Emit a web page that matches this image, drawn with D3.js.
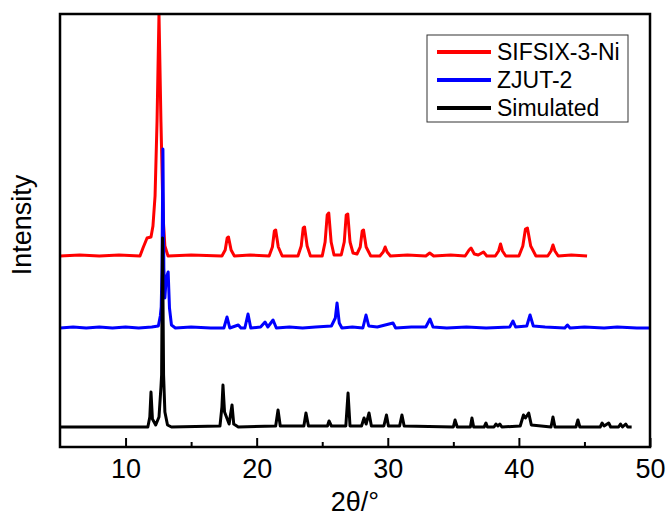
<!DOCTYPE html>
<html>
<head>
<meta charset="utf-8">
<script src="https://cdnjs.cloudflare.com/ajax/libs/d3/7.8.5/d3.min.js"></script>
<style>
  body { margin: 0; background: #fff; }
  svg { display: block; font-family: "Liberation Sans", Arial, sans-serif; }
</style>
</head>
<body>
<div id="chart"></div>
<script>
// series names and colours, as in legend order
var seriesNames = ["SIFSIX-3-Ni", "ZJUT-2", "Simulated"];
var seriesColors = ["#ff0000", "#0000ff", "#000000"];
// vertical offsets of each pattern (a.u.)
var seriesOffsets = [191, 119, 20];

// [2theta, intensity a.u.]
var sifsixData = [
  [5, 0], [6.5, 1], [8, 0], [9.5, 1], [11.1, 0], [11.33, 8], [11.64, 18], [11.94, 19], [12.09, 30],
  [12.25, 60], [12.4, 134], [12.55, 242], [12.7, 134], [12.86, 40], [13.0, 10], [13.24, 0],
  [15, 1], [17.35, 0], [17.6, 6], [17.75, 18], [17.85, 19], [18.05, 6], [18.3, 0],
  [19.5, 1], [20.95, 0], [21.2, 9], [21.35, 25], [21.45, 26], [21.65, 9], [21.95, 0],
  [23.15, 0], [23.4, 10], [23.55, 28], [23.65, 29], [23.85, 10], [24.1, 0],
  [25.0, 0], [25.22, 14], [25.38, 41], [25.5, 43], [25.68, 14], [25.9, 1],
  [26.45, 1], [26.68, 14], [26.83, 41], [26.95, 42], [27.12, 14], [27.35, 3],
  [27.65, 2], [27.9, 9], [28.05, 25], [28.15, 26], [28.35, 9], [28.7, 0],
  [29.4, 0], [29.65, 4], [29.8, 9], [29.95, 4], [30.2, 0], [31.5, 1],
  [32.9, 0], [33.2, 3], [33.5, 0], [34.8, 1],
  [35.9, 0], [36.2, 6], [36.35, 8], [36.6, 2], [36.9, 1], [37.3, 4], [37.55, 0],
  [38.2, 0], [38.45, 5], [38.6, 12], [38.75, 5], [39.0, 0],
  [40.0, 0], [40.3, 10], [40.5, 27], [40.65, 28], [40.9, 10], [41.3, 0],
  [42.2, 0], [42.45, 5], [42.6, 11], [42.75, 5], [43.0, 0], [44, 1], [45.2, 0]
];

var zjutData = [
  [5, 0], [6, 1], [7, 0], [8, 1], [9, 0], [10, 1], [11, 0], [12, 1],
  [12.5, 2], [12.65, 12], [12.72, 21], [12.78, 60], [12.85, 179], [12.92, 60], [13.0, 30],
  [13.1, 50], [13.25, 56], [13.35, 20], [13.5, 3], [13.8, 0], [15, 1], [16.5, 0],
  [17.5, 0], [17.74, 11], [17.95, 0], [18.6, 3], [18.8, 0],
  [19.1, 0], [19.34, 14], [19.55, 0], [20.3, 1], [20.64, 6], [20.85, 1], [21.25, 8], [21.5, 0],
  [22.5, 1], [23.5, 0], [24.5, 1], [25.7, 2], [26.0, 10], [26.13, 25], [26.3, 5], [26.5, 0],
  [27.3, 1], [28.1, 0], [28.34, 13], [28.55, 2], [29.2, 1], [30.4, 5], [30.6, 0],
  [31.8, 1], [32.9, 1], [33.22, 9], [33.45, 1], [34.5, 0], [36, 1], [37.5, 0],
  [39.3, 1], [39.55, 7], [39.75, 1], [40.6, 2], [40.85, 13], [41.1, 2], [42, 1],
  [43.5, 0], [43.7, 3], [43.9, 0], [45, 1], [46.5, 0], [47.5, 1], [49, 0], [50, 0]
];

var simulatedData = [
  [5, 0], [11.7, 0], [11.85, 10], [11.94, 35], [12.05, 8], [12.3, 2], [12.55, 10], [12.7, 40],
  [12.75, 52], [12.82, 189], [12.9, 52], [13.0, 15], [13.2, 2], [13.5, 0],
  [17.2, 1], [17.35, 20], [17.43, 42], [17.55, 15], [17.9, 3], [18.0, 12], [18.12, 22], [18.25, 3], [18.6, 0],
  [21.45, 1], [21.63, 17], [21.8, 1], [23.6, 1], [23.76, 14], [23.95, 1],
  [25.4, 1], [25.52, 6], [25.7, 1], [26.8, 1], [26.97, 34], [27.12, 1],
  [28.0, 1], [28.19, 9], [28.35, 3], [28.57, 14], [28.75, 1],
  [29.7, 1], [29.9, 12], [30.05, 1], [30.9, 1], [31.08, 12], [31.25, 1],
  [35.0, 0], [35.13, 7], [35.3, 0], [36.3, 0], [36.42, 9], [36.55, 0],
  [37.35, 0], [37.49, 4], [37.6, 0], [38.1, 0], [38.25, 3], [38.4, 1], [38.55, 3], [38.7, 0],
  [40.1, 1], [40.35, 12], [40.5, 9], [40.75, 14], [40.95, 2],
  [42.45, 0], [42.6, 10], [42.75, 0], [44.35, 0], [44.5, 7], [44.65, 0],
  [46.2, 0], [46.35, 4], [46.5, 1], [46.85, 4], [47.0, 0],
  [47.6, 0], [47.75, 3], [47.9, 0], [48.15, 3], [48.3, 0], [48.6, 0]
];

var xTicks = [10, 20, 30, 40, 50];
var xMinorTicks = [15, 25, 35, 45];

var width = 669, height = 517;
var margin = {top: 14, right: 19, bottom: 70, left: 60};
var width_g = width - margin.left - margin.right,
    height_g = height - margin.top - margin.bottom;

var x = d3.scaleLinear().domain([5, 50]).range([0, width_g]);
var y = d3.scaleLinear().domain([0, 433]).range([height_g, 0]);

var svg = d3.select("#chart").append("svg")
  .attr("width", width)
  .attr("height", height);

var frg = svg.append("g")
  .attr("transform", "translate(" + margin.left + "," + margin.top + ")");

svg.append("defs").append("clipPath").attr("id", "clip")
  .append("rect").attr("width", width_g).attr("height", height_g);

var allData = [sifsixData, zjutData, simulatedData];

var line = d3.line()
  .x(function(d) { return x(d[0]); })
  .y(function(d) { return y(d[1]); });

var linegroup = frg.append("g").attr("class", "linegroup").attr("clip-path", "url(#clip)");
allData.forEach(function(data, i) {
  var off = seriesOffsets[i];
  linegroup.append("path")
    .datum(data.map(function(d) { return [d[0], d[1] + off]; }))
    .attr("d", line)
    .attr("fill", "none")
    .attr("stroke", seriesColors[i])
    .attr("stroke-width", 3)
    .attr("stroke-linejoin", "round");
});

// x axis, ticks pointing inward
var xAxis = d3.axisBottom(x).tickValues(xTicks).tickSizeInner(-9).tickSizeOuter(0).tickPadding(12);
var xg = frg.append("g")
  .attr("transform", "translate(0," + height_g + ")")
  .call(xAxis);
xg.select(".domain").remove();
xg.selectAll(".tick line").attr("stroke", "#000").attr("stroke-width", 2);
xg.selectAll(".tick text").attr("font-size", 27).attr("fill", "#000")
  .attr("font-family", "'Liberation Sans', Arial, sans-serif");

var xMinor = d3.axisBottom(x).tickValues(xMinorTicks).tickSizeInner(-5).tickSizeOuter(0).tickFormat("");
var xmg = frg.append("g")
  .attr("transform", "translate(0," + height_g + ")")
  .call(xMinor);
xmg.select(".domain").remove();
xmg.selectAll(".tick line").attr("stroke", "#000").attr("stroke-width", 2);

// frame
frg.append("rect")
  .attr("width", width_g)
  .attr("height", height_g)
  .attr("fill", "none")
  .attr("stroke", "#000")
  .attr("stroke-width", 2.5);

// axis titles
frg.append("text")
  .attr("transform", "translate(" + (width_g / 2) + "," + (height_g + 64) + ")")
  .style("text-anchor", "middle")
  .attr("font-size", 27)
  .text("2θ/°");

frg.append("text")
  .attr("transform", "translate(" + (-margin.left + 31) + "," + (211) + ") rotate(-90)")
  .style("text-anchor", "middle")
  .attr("font-size", 27)
  .text("Intensity");

// legend
var legend = svg.append("g").attr("transform", "translate(427,35)");
legend.append("rect")
  .attr("width", 201).attr("height", 87)
  .attr("fill", "#fff").attr("stroke", "#333").attr("stroke-width", 1);
seriesNames.forEach(function(name, i) {
  var row = legend.append("g").attr("transform", "translate(0," + (17 + i * 28) + ")");
  row.append("line")
    .attr("x1", 10).attr("x2", 64)
    .attr("stroke", seriesColors[i]).attr("stroke-width", 4);
  row.append("text")
    .attr("x", 70).attr("dy", "0.36em")
    .attr("font-size", 23)
    .text(name);
});
</script>
</body>
</html>
